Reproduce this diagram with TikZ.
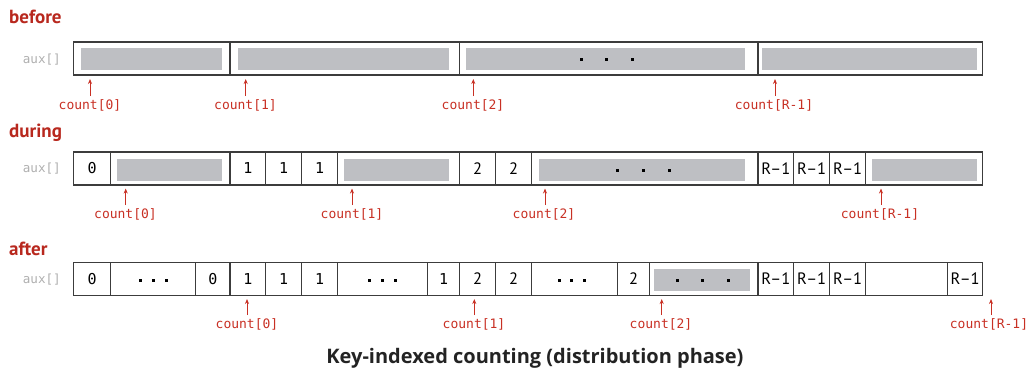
\documentclass[tikz,border=0pt]{standalone}
\usepackage{fontspec}
\setmainfont{PT Sans}
\setsansfont{PT Sans}
\setmonofont{DejaVu Sans Mono}
\newfontfamily\titlefont{Open Sans}
\usetikzlibrary{arrows.meta}
\definecolor{countred}{RGB}{200,48,36}
\definecolor{headred}{RGB}{184,40,30}
\definecolor{auxgrey}{RGB}{175,175,175}
\definecolor{bargrey}{RGB}{190,191,195}
\definecolor{boxline}{RGB}{60,60,60}
\definecolor{titletext}{RGB}{35,35,35}
\tikzset{
  cell/.style={draw=boxline, line width=1.3pt, inner sep=0pt, minimum height=33pt, anchor=west},
  bar/.style={fill=bargrey, inner sep=0pt, minimum height=22pt, anchor=west},
  mono/.style={font=\ttfamily\fontsize{15}{15}\selectfont},
  sans/.style={font=\sffamily\fontsize{16.5}{16.5}\selectfont},
  cnt/.style={font=\ttfamily\fontsize{13}{13}\selectfont, text=countred, inner sep=0pt},
  ptr/.style={-{Stealth[length=5pt,width=4pt]}, line width=0.8pt, draw=countred, shorten <=3pt},
  head/.style={font=\sffamily\bfseries\fontsize{19}{19}\selectfont, text=headred, inner sep=0pt, anchor=west},
  auxlab/.style={font=\ttfamily\fontsize{12.6}{12.6}\selectfont, text=auxgrey, inner sep=0pt, anchor=east},
  dotmark/.style={fill=black, inner sep=0pt, minimum size=3pt},
  titlestyle/.style={font=\titlefont\bfseries\fontsize{20}{20}\selectfont, text=titletext, inner sep=0pt},
}
% cell: name, x1, x2, y, style, text
\newcommand\Cell[6]{\node[cell,#5,minimum width={(#3-#2)*1pt}] (#1) at (#2,#4) {#6};}
% bar: name, x1, x2, y
\newcommand\Bar[4]{\node[bar,minimum width={(#3-#2)*1pt}] (#1) at (#2,#4) {};}
\newcommand\Dot[3]{\node[dotmark] (#1) at (#2,#3) {};}
\begin{document}
\begin{tikzpicture}[x=1pt,y=-1pt]
\path[use as bounding box] (0,0) rectangle (1031,376);

% ---------------- before ----------------
\node[head] (hbefore) at (9,17) {before};
\node[auxlab] (aux1) at (61,60) {aux[]};
\Cell{a1}{73}{229.3}{58.5}{}{}
\Cell{a2}{229.3}{459}{58.5}{}{}
\Cell{a3}{459}{757.3}{58.5}{}{}
\Cell{a4}{757.3}{982}{58.5}{}{}
\Bar{ab1}{81}{222}{59}
\Bar{ab2}{238}{449}{59}
\Bar{ab3}{466}{745}{59}
\Bar{ab4}{762}{977}{59}
\Dot{ad1}{581}{59.5}\Dot{ad2}{606.5}{59.5}\Dot{ad3}{632}{59.5}
\coordinate (at0) at (90,79);
\coordinate (at1) at (245.7,79);
\coordinate (at2) at (473.3,79);
\coordinate (at3) at (775,79);
\node[cnt] (ac0) at (90,105) {count[0]};
\node[cnt] (ac1) at (245.5,105) {count[1]};
\node[cnt] (ac2) at (473,105) {count[2]};
\node[cnt] (ac3) at (774,105) {count[R-1]};
\draw[ptr] (ac0.north -| at0) -- (at0);
\draw[ptr] (ac1.north -| at1) -- (at1);
\draw[ptr] (ac2.north -| at2) -- (at2);
\draw[ptr] (ac3.north -| at3) -- (at3);

% ---------------- during ----------------
\node[head] (hduring) at (9,133) {during};
\node[auxlab] (aux2) at (61,169) {aux[]};
\Cell{b1}{73}{110}{168.5}{mono}{0}
\Cell{b2}{110}{229.3}{168.5}{}{}
\Cell{b3}{229.3}{265}{168.5}{mono}{1}
\Cell{b4}{265}{301}{168.5}{mono}{1}
\Cell{b5}{301}{337}{168.5}{mono}{1}
\Cell{b6}{337}{459}{168.5}{}{}
\Cell{b7}{459}{495}{168.5}{sans}{2}
\Cell{b8}{495}{531}{168.5}{sans}{2}
\Cell{b9}{531}{757.3}{168.5}{}{}
\Cell{b10}{757.3}{793}{168.5}{sans}{R–1}
\Cell{b11}{793}{829}{168.5}{sans}{R–1}
\Cell{b12}{829}{865}{168.5}{sans}{R–1}
\Cell{b13}{865}{982}{168.5}{}{}
\Bar{bb1}{117}{222}{170}
\Bar{bb2}{344}{449}{170}
\Bar{bb3}{539}{745}{170}
\Bar{bb4}{872}{977}{170}
\Dot{bd1}{617}{170.5}\Dot{bd2}{643}{170.5}\Dot{bd3}{669}{170.5}
\coordinate (bt0) at (125.7,188.5);
\coordinate (bt1) at (352,188.5);
\coordinate (bt2) at (545,188.5);
\coordinate (bt3) at (881,188.5);
\node[cnt] (bc0) at (125.5,214) {count[0]};
\node[cnt] (bc1) at (352,214) {count[1]};
\node[cnt] (bc2) at (544,214) {count[2]};
\node[cnt] (bc3) at (880,214) {count[R-1]};
\draw[ptr] (bc0.north -| bt0) -- (bt0);
\draw[ptr] (bc1.north -| bt1) -- (bt1);
\draw[ptr] (bc2.north -| bt2) -- (bt2);
\draw[ptr] (bc3.north -| bt3) -- (bt3);

% ---------------- after ----------------
\node[head] (hafter) at (9,249) {after};
\node[auxlab] (aux3) at (61,280) {aux[]};
\Cell{c1}{73}{110}{279}{mono}{0}
\Cell{c2}{110}{195}{279}{}{}
\Cell{c3}{195}{229.3}{279}{mono}{0}
\Cell{c4}{229.3}{265}{279}{mono}{1}
\Cell{c5}{265}{301}{279}{mono}{1}
\Cell{c6}{301}{337}{279}{mono}{1}
\Cell{c7}{337}{427}{279}{}{}
\Cell{c8}{427}{459}{279}{mono}{1}
\Cell{c9}{459}{495}{279}{sans}{2}
\Cell{c10}{495}{531}{279}{sans}{2}
\Cell{c11}{531}{617}{279}{}{}
\Cell{c12}{617}{649}{279}{sans}{2}
\Cell{c13}{649}{757.3}{279}{}{}
\Cell{c14}{757.3}{793}{279}{sans}{R–1}
\Cell{c15}{793}{829}{279}{sans}{R–1}
\Cell{c16}{829}{865}{279}{sans}{R–1}
\Cell{c17}{865}{947}{279}{}{}
\Cell{c18}{947}{982}{279}{sans}{R–1}
\Bar{cb1}{654}{750}{280}
\Dot{cd1}{140}{280.5}\Dot{cd2}{153}{280.5}\Dot{cd3}{166}{280.5}
\Dot{cd4}{369}{280.5}\Dot{cd5}{382}{280.5}\Dot{cd6}{395}{280.5}
\Dot{cd7}{559}{280.5}\Dot{cd8}{571.5}{280.5}\Dot{cd9}{584}{280.5}
\Dot{cd10}{677}{280.5}\Dot{cd11}{702.5}{280.5}\Dot{cd12}{728}{280.5}
\coordinate (ct0) at (247,299);
\coordinate (ct1) at (474.3,299);
\coordinate (ct2) at (661.7,299);
\coordinate (ct3) at (991,299);
\node[cnt] (cc0) at (247,324) {count[0]};
\node[cnt] (cc1) at (474,324) {count[1]};
\node[cnt] (cc2) at (661,324) {count[2]};
\node[cnt] (cc3) at (989,324) {count[R-1]};
\draw[ptr] (cc0.north -| ct0) -- (ct0);
\draw[ptr] (cc1.north -| ct1) -- (ct1);
\draw[ptr] (cc2.north -| ct2) -- (ct2);
\draw[ptr] (cc3.north -| ct3) -- (ct3);

% ---------------- title ----------------
\node[titlestyle] (title) at (535,358) {Key-indexed counting (distribution phase)};
\end{tikzpicture}
\end{document}
